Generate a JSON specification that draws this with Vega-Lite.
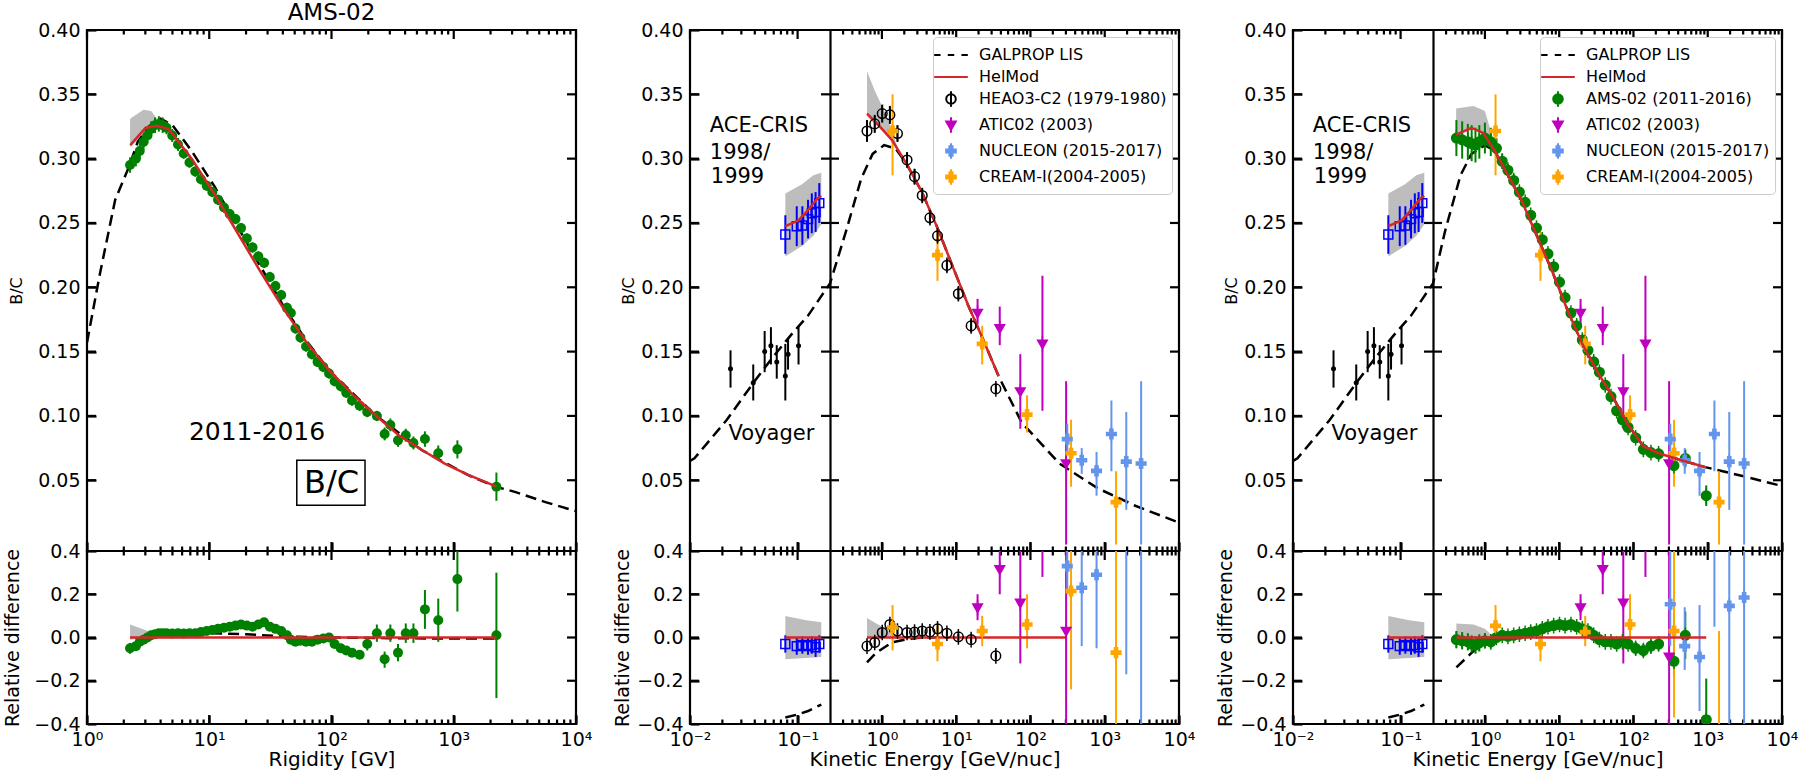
{
"$schema": "https://vega.github.io/schema/vega-lite/v6.json",
"padding": {"left": 2, "top": 0, "right": 0, "bottom": 0},
"config": {
  "font": "DejaVu Sans",
  "view": {"stroke": "black", "strokeWidth": 2.2},
  "axis": {"grid": false, "domain": false, "ticks": true, "tickColor": "black", "tickWidth": 2.2, "labelFontSize": 19, "labelColor": "black", "titleFontSize": 19, "titleFontWeight": "normal", "titleColor": "black", "labelFlush": false, "labelOverlap": false},
  "title": {"fontWeight": "normal", "color": "black"}
},
"datasets": {
  "xmaj_L": [{"t":1},{"t":10},{"t":100},{"t":1000},{"t":10000}],
  "xmin_L": [{"t":2},{"t":3},{"t":4},{"t":5},{"t":6},{"t":7},{"t":8},{"t":9},{"t":20},{"t":30},{"t":40},{"t":50},{"t":60},{"t":70},{"t":80},{"t":90},{"t":200},{"t":300},{"t":400},{"t":500},{"t":600},{"t":700},{"t":800},{"t":900},{"t":2000},{"t":3000},{"t":4000},{"t":5000},{"t":6000},{"t":7000},{"t":8000},{"t":9000}],
  "xmaj_M": [{"t":0.01},{"t":0.1},{"t":1},{"t":10},{"t":100},{"t":1000},{"t":10000}],
  "xmin_M": [{"t":0.02},{"t":0.03},{"t":0.04},{"t":0.05},{"t":0.06},{"t":0.07},{"t":0.08},{"t":0.09},{"t":0.3},{"t":0.4},{"t":0.5},{"t":0.6},{"t":0.7},{"t":0.8},{"t":0.9},{"t":2},{"t":3},{"t":4},{"t":5},{"t":6},{"t":7},{"t":8},{"t":9},{"t":20},{"t":30},{"t":40},{"t":50},{"t":60},{"t":70},{"t":80},{"t":90},{"t":200},{"t":300},{"t":400},{"t":500},{"t":600},{"t":700},{"t":800},{"t":900},{"t":2000},{"t":3000},{"t":4000},{"t":5000},{"t":6000},{"t":7000},{"t":8000},{"t":9000}],
  "yt_T": [{"t":0.05},{"t":0.1},{"t":0.15},{"t":0.2},{"t":0.25},{"t":0.3},{"t":0.35}],
  "yt_B": [{"t":-0.2},{"t":0},{"t":0.2}],

  "band_L": [{"E":2.25,"lo":0.309,"hi":0.331},{"E":2.9,"lo":0.318,"hi":0.338},{"E":3.35,"lo":0.323,"hi":0.337},{"E":3.8,"lo":0.326,"hi":0.33}],
  "lis_L": [{"E":1,"v":0.157},{"E":1.26,"v":0.208},{"E":1.7,"v":0.268},{"E":2.19,"v":0.293},{"E":2.6,"v":0.313},{"E":3.37,"v":0.327},{"E":4.0,"v":0.331},{"E":5.0,"v":0.326},{"E":7.18,"v":0.306},{"E":11.1,"v":0.278},{"E":17.1,"v":0.247},{"E":26.3,"v":0.216},{"E":40.7,"v":0.185},{"E":62.7,"v":0.158},{"E":96.6,"v":0.135},{"E":229,"v":0.1005},{"E":550,"v":0.0733},{"E":1288,"v":0.0543},{"E":2239,"v":0.0448},{"E":3162,"v":0.041},{"E":5623,"v":0.033},{"E":10000,"v":0.026}],
  "hel_L": [{"E":2.26,"v":0.3105},{"E":3.02,"v":0.324},{"E":3.75,"v":0.3255},{"E":4.66,"v":0.323},{"E":7.18,"v":0.3},{"E":11.1,"v":0.272},{"E":17.1,"v":0.242},{"E":26.3,"v":0.212},{"E":40.7,"v":0.183},{"E":62.7,"v":0.157},{"E":96.6,"v":0.135},{"E":148,"v":0.117},{"E":229,"v":0.1005},{"E":355,"v":0.085},{"E":550,"v":0.0735},{"E":851,"v":0.0628},{"E":1288,"v":0.0546},{"E":2239,"v":0.045}],
  "ams_L": [
    {"E":2.25,"v":0.295,"lo":0.289,"hi":0.301},{"E":2.51,"v":0.3,"lo":0.294,"hi":0.306},{"E":2.7,"v":0.306,"lo":0.3,"hi":0.312},{"E":2.9,"v":0.313,"lo":0.307,"hi":0.319},{"E":3.12,"v":0.318,"lo":0.312,"hi":0.324},{"E":3.35,"v":0.323,"lo":0.317,"hi":0.329},{"E":3.6,"v":0.326,"lo":0.32,"hi":0.332},{"E":3.87,"v":0.327,"lo":0.321,"hi":0.333},{"E":4.16,"v":0.326,"lo":0.32,"hi":0.332},{"E":4.47,"v":0.324,"lo":0.319,"hi":0.329},
    {"E":4.98,"v":0.318,"lo":0.313,"hi":0.323},{"E":5.55,"v":0.311,"lo":0.306,"hi":0.316},{"E":6.18,"v":0.304,"lo":0.3,"hi":0.308},{"E":6.89,"v":0.297,"lo":0.293,"hi":0.301},{"E":7.68,"v":0.29,"lo":0.286,"hi":0.294},{"E":8.55,"v":0.284,"lo":0.28,"hi":0.288},{"E":9.53,"v":0.279,"lo":0.275,"hi":0.283},{"E":10.6,"v":0.274,"lo":0.27,"hi":0.278},{"E":11.8,"v":0.268,"lo":0.264,"hi":0.272},{"E":13.2,"v":0.262,"lo":0.258,"hi":0.266},
    {"E":14.7,"v":0.257,"lo":0.253,"hi":0.261},{"E":16.4,"v":0.253,"lo":0.249,"hi":0.257},{"E":18.2,"v":0.246,"lo":0.242,"hi":0.25},{"E":20.3,"v":0.238,"lo":0.234,"hi":0.242},{"E":22.6,"v":0.231,"lo":0.227,"hi":0.235},{"E":25.2,"v":0.224,"lo":0.22,"hi":0.228},{"E":28.1,"v":0.219,"lo":0.215,"hi":0.223},{"E":31.3,"v":0.208,"lo":0.204,"hi":0.212},{"E":34.8,"v":0.201,"lo":0.197,"hi":0.205},{"E":38.8,"v":0.194,"lo":0.19,"hi":0.198},
    {"E":43.2,"v":0.184,"lo":0.18,"hi":0.188},{"E":46.5,"v":0.18,"lo":0.176,"hi":0.184},{"E":50.7,"v":0.168,"lo":0.164,"hi":0.172},{"E":55.7,"v":0.161,"lo":0.157,"hi":0.165},{"E":61.9,"v":0.154,"lo":0.15,"hi":0.158},{"E":69.1,"v":0.148,"lo":0.144,"hi":0.152},{"E":76.9,"v":0.142,"lo":0.138,"hi":0.146},{"E":85.7,"v":0.138,"lo":0.134,"hi":0.142},{"E":95.5,"v":0.133,"lo":0.129,"hi":0.137},{"E":106,"v":0.127,"lo":0.123,"hi":0.131},
    {"E":119,"v":0.123,"lo":0.119,"hi":0.127},{"E":132,"v":0.118,"lo":0.114,"hi":0.122},{"E":147,"v":0.112,"lo":0.108,"hi":0.116},{"E":170,"v":0.108,"lo":0.104,"hi":0.112},{"E":196,"v":0.103,"lo":0.099,"hi":0.107},{"E":235,"v":0.1,"lo":0.096,"hi":0.104},{"E":272,"v":0.086,"lo":0.081,"hi":0.091},{"E":303,"v":0.093,"lo":0.088,"hi":0.098},{"E":350,"v":0.081,"lo":0.076,"hi":0.086},{"E":405,"v":0.085,"lo":0.08,"hi":0.09},
    {"E":468,"v":0.079,"lo":0.074,"hi":0.084},{"E":581,"v":0.082,"lo":0.076,"hi":0.088},{"E":747,"v":0.071,"lo":0.065,"hi":0.077},{"E":1071,"v":0.074,"lo":0.067,"hi":0.081},{"E":2233,"v":0.045,"lo":0.034,"hi":0.056}],
  "amsrd_L": [
    {"E":2.25,"v":-0.05,"lo":-0.075,"hi":-0.025},{"E":2.51,"v":-0.04,"lo":-0.06,"hi":-0.02},{"E":2.7,"v":-0.02,"lo":-0.04,"hi":0.0},{"E":2.9,"v":-0.01,"lo":-0.028,"hi":0.008},{"E":3.12,"v":0.0,"lo":-0.015,"hi":0.015},{"E":3.35,"v":0.01,"lo":-0.003,"hi":0.023},{"E":3.6,"v":0.015,"lo":0.003,"hi":0.027},{"E":3.87,"v":0.02,"lo":0.008,"hi":0.032},{"E":4.16,"v":0.02,"lo":0.008,"hi":0.032},{"E":4.47,"v":0.02,"lo":0.008,"hi":0.032},
    {"E":4.98,"v":0.018,"lo":0.006,"hi":0.03},{"E":5.55,"v":0.02,"lo":0.008,"hi":0.032},{"E":6.18,"v":0.018,"lo":0.006,"hi":0.03},{"E":6.89,"v":0.02,"lo":0.008,"hi":0.032},{"E":7.68,"v":0.02,"lo":0.008,"hi":0.032},{"E":8.55,"v":0.025,"lo":0.013,"hi":0.037},{"E":9.53,"v":0.03,"lo":0.018,"hi":0.042},{"E":10.6,"v":0.035,"lo":0.023,"hi":0.047},{"E":11.8,"v":0.04,"lo":0.028,"hi":0.052},{"E":13.2,"v":0.045,"lo":0.033,"hi":0.057},
    {"E":14.7,"v":0.05,"lo":0.038,"hi":0.062},{"E":16.4,"v":0.055,"lo":0.043,"hi":0.067},{"E":18.2,"v":0.06,"lo":0.048,"hi":0.072},{"E":20.3,"v":0.055,"lo":0.043,"hi":0.067},{"E":22.6,"v":0.05,"lo":0.038,"hi":0.062},{"E":25.2,"v":0.06,"lo":0.048,"hi":0.072},{"E":28.1,"v":0.07,"lo":0.058,"hi":0.082},{"E":31.3,"v":0.05,"lo":0.038,"hi":0.062},{"E":34.8,"v":0.04,"lo":0.028,"hi":0.052},{"E":38.8,"v":0.03,"lo":0.018,"hi":0.042},
    {"E":43.2,"v":0.01,"lo":-0.002,"hi":0.022},{"E":46.5,"v":-0.01,"lo":-0.022,"hi":0.002},{"E":50.7,"v":-0.02,"lo":-0.032,"hi":-0.008},{"E":55.7,"v":-0.015,"lo":-0.027,"hi":-0.003},{"E":61.9,"v":-0.02,"lo":-0.032,"hi":-0.008},{"E":69.1,"v":-0.02,"lo":-0.032,"hi":-0.008},{"E":76.9,"v":-0.01,"lo":-0.022,"hi":0.002},{"E":85.7,"v":-0.005,"lo":-0.017,"hi":0.007},{"E":95.5,"v":0.0,"lo":-0.012,"hi":0.012},{"E":106,"v":-0.03,"lo":-0.045,"hi":-0.015},
    {"E":119,"v":-0.05,"lo":-0.065,"hi":-0.035},{"E":132,"v":-0.06,"lo":-0.075,"hi":-0.045},{"E":147,"v":-0.07,"lo":-0.085,"hi":-0.055},{"E":170,"v":-0.08,"lo":-0.1,"hi":-0.06},{"E":196,"v":-0.03,"lo":-0.06,"hi":0.0},{"E":235,"v":0.02,"lo":-0.02,"hi":0.06},{"E":272,"v":-0.1,"lo":-0.14,"hi":-0.065},{"E":303,"v":0.02,"lo":-0.02,"hi":0.06},{"E":350,"v":-0.07,"lo":-0.11,"hi":-0.03},{"E":405,"v":0.02,"lo":-0.025,"hi":0.065},
    {"E":468,"v":0.02,"lo":-0.025,"hi":0.065},{"E":581,"v":0.13,"lo":0.04,"hi":0.22},{"E":747,"v":0.08,"lo":-0.02,"hi":0.18},{"E":1071,"v":0.27,"lo":0.12,"hi":0.45},{"E":2233,"v":0.01,"lo":-0.28,"hi":0.3}],
  "lisrd_L": [{"E":2.25,"v":-0.055},{"E":2.9,"v":-0.015},{"E":3.6,"v":0.01},{"E":4.5,"v":0.02},{"E":7,"v":0.02},{"E":10,"v":0.02},{"E":20,"v":0.015},{"E":40,"v":0.005},{"E":100,"v":0.0},{"E":300,"v":-0.003},{"E":1000,"v":-0.005},{"E":2233,"v":-0.005}],
  "helrd_L": [{"E":2.25,"v":0},{"E":2233,"v":0}],
  "bandrd_L": [{"E":2.25,"lo":-0.01,"hi":0.06},{"E":3.0,"lo":0.0,"hi":0.035},{"E":4.0,"lo":0.0,"hi":0.005}],

  "voy": [{"E":0.0238,"v":0.1367,"lo":0.122,"hi":0.151},{"E":0.0387,"v":0.1258,"lo":0.112,"hi":0.14},{"E":0.0494,"v":0.15,"lo":0.134,"hi":0.166},{"E":0.0565,"v":0.1545,"lo":0.14,"hi":0.169},{"E":0.064,"v":0.142,"lo":0.129,"hi":0.155},{"E":0.0769,"v":0.131,"lo":0.112,"hi":0.156},{"E":0.0815,"v":0.148,"lo":0.136,"hi":0.16},{"E":0.102,"v":0.1545,"lo":0.14,"hi":0.169}],
  "ace": [{"E":0.0769,"v":0.241,"lo":0.226,"hi":0.256},{"E":0.0982,"v":0.2475,"lo":0.232,"hi":0.263},{"E":0.1107,"v":0.248,"lo":0.233,"hi":0.263},{"E":0.125,"v":0.253,"lo":0.238,"hi":0.268},{"E":0.1355,"v":0.2575,"lo":0.242,"hi":0.273},{"E":0.147,"v":0.2585,"lo":0.243,"hi":0.274},{"E":0.159,"v":0.2654,"lo":0.25,"hi":0.281}],
  "acerd": [{"E":0.0769,"v":-0.03,"lo":-0.07,"hi":0.01},{"E":0.0982,"v":-0.04,"lo":-0.08,"hi":0.0},{"E":0.1107,"v":-0.035,"lo":-0.075,"hi":0.005},{"E":0.125,"v":-0.04,"lo":-0.08,"hi":0.0},{"E":0.1355,"v":-0.035,"lo":-0.075,"hi":0.005},{"E":0.147,"v":-0.045,"lo":-0.09,"hi":0.0},{"E":0.159,"v":-0.03,"lo":-0.07,"hi":0.01}],

  "band_M": [{"E":0.0769,"lo":0.224,"hi":0.273,"seg":"A"},{"E":0.11,"lo":0.232,"hi":0.28,"seg":"A"},{"E":0.14,"lo":0.24,"hi":0.287,"seg":"A"},{"E":0.166,"lo":0.249,"hi":0.289,"seg":"A"},{"E":0.63,"lo":0.333,"hi":0.368,"seg":"B"},{"E":0.8,"lo":0.327,"hi":0.353,"seg":"B"},{"E":1.2,"lo":0.318,"hi":0.331,"seg":"B"},{"E":1.62,"lo":0.307,"hi":0.309,"seg":"B"}],
  "lis_M": [{"E":0.01,"v":0.065},{"E":0.011,"v":0.067},{"E":0.022,"v":0.097},{"E":0.039,"v":0.126},{"E":0.058,"v":0.145},{"E":0.087,"v":0.163},{"E":0.125,"v":0.178},{"E":0.2,"v":0.203},{"E":0.328,"v":0.2434},{"E":0.526,"v":0.2845},{"E":0.75,"v":0.3037},{"E":1.07,"v":0.3105},{"E":1.53,"v":0.3078},{"E":2.17,"v":0.2955},{"E":3.49,"v":0.2735},{"E":5.61,"v":0.246},{"E":9.0,"v":0.216},{"E":14.5,"v":0.186},{"E":23.2,"v":0.159},{"E":37.2,"v":0.131},{"E":75.9,"v":0.095},{"E":245,"v":0.063},{"E":813,"v":0.0436},{"E":2630,"v":0.03},{"E":10000,"v":0.017}],
  "hel_M": [{"E":0.0769,"v":0.2475,"seg":"A"},{"E":0.102,"v":0.252,"seg":"A"},{"E":0.125,"v":0.26,"seg":"A"},{"E":0.153,"v":0.269,"seg":"A"},{"E":0.166,"v":0.271,"seg":"A"},{"E":0.63,"v":0.335,"seg":"B"},{"E":0.84,"v":0.328,"seg":"B"},{"E":1.36,"v":0.3146,"seg":"B"},{"E":2.17,"v":0.2955,"seg":"B"},{"E":3.49,"v":0.2735,"seg":"B"},{"E":5.61,"v":0.246,"seg":"B"},{"E":9.0,"v":0.216,"seg":"B"},{"E":14.5,"v":0.186,"seg":"B"},{"E":23.2,"v":0.159,"seg":"B"},{"E":37.2,"v":0.131,"seg":"B"}],
  "exp_M": [
    {"s":"HEAO3-C2 (1979-1980)","E":0.63,"v":0.3215,"lo":0.313,"hi":0.33},{"s":"HEAO3-C2 (1979-1980)","E":0.8,"v":0.327,"lo":0.32,"hi":0.334},{"s":"HEAO3-C2 (1979-1980)","E":1.01,"v":0.335,"lo":0.328,"hi":0.342},{"s":"HEAO3-C2 (1979-1980)","E":1.28,"v":0.334,"lo":0.327,"hi":0.341},{"s":"HEAO3-C2 (1979-1980)","E":1.62,"v":0.3195,"lo":0.313,"hi":0.326},{"s":"HEAO3-C2 (1979-1980)","E":2.18,"v":0.299,"lo":0.293,"hi":0.305},{"s":"HEAO3-C2 (1979-1980)","E":2.75,"v":0.286,"lo":0.28,"hi":0.292},{"s":"HEAO3-C2 (1979-1980)","E":3.49,"v":0.2714,"lo":0.266,"hi":0.277},{"s":"HEAO3-C2 (1979-1980)","E":4.43,"v":0.254,"lo":0.249,"hi":0.259},{"s":"HEAO3-C2 (1979-1980)","E":5.61,"v":0.24,"lo":0.235,"hi":0.245},{"s":"HEAO3-C2 (1979-1980)","E":7.5,"v":0.217,"lo":0.212,"hi":0.222},{"s":"HEAO3-C2 (1979-1980)","E":10.7,"v":0.195,"lo":0.19,"hi":0.2},{"s":"HEAO3-C2 (1979-1980)","E":15.9,"v":0.17,"lo":0.165,"hi":0.175},{"s":"HEAO3-C2 (1979-1980)","E":34.2,"v":0.121,"lo":0.117,"hi":0.125},
    {"s":"ATIC02 (2003)","E":19.4,"v":0.18,"lo":0.171,"hi":0.191},{"s":"ATIC02 (2003)","E":38.6,"v":0.168,"lo":0.155,"hi":0.185},{"s":"ATIC02 (2003)","E":73,"v":0.119,"lo":0.09,"hi":0.148},{"s":"ATIC02 (2003)","E":145,"v":0.156,"lo":0.104,"hi":0.209},{"s":"ATIC02 (2003)","E":302,"v":0.063,"lo":0.0,"hi":0.127},
    {"s":"NUCLEON (2015-2017)","E":313,"v":0.082,"lo":0.07,"hi":0.094},{"s":"NUCLEON (2015-2017)","E":490,"v":0.0655,"lo":0.055,"hi":0.075},{"s":"NUCLEON (2015-2017)","E":776,"v":0.0573,"lo":0.038,"hi":0.072},{"s":"NUCLEON (2015-2017)","E":1230,"v":0.086,"lo":0.057,"hi":0.112},{"s":"NUCLEON (2015-2017)","E":1950,"v":0.0645,"lo":0.027,"hi":0.103},{"s":"NUCLEON (2015-2017)","E":3090,"v":0.063,"lo":0.0,"hi":0.127},
    {"s":"CREAM-I(2004-2005)","E":1.39,"v":0.3215,"lo":0.287,"hi":0.35},{"s":"CREAM-I(2004-2005)","E":5.6,"v":0.225,"lo":0.205,"hi":0.243},{"s":"CREAM-I(2004-2005)","E":22.4,"v":0.156,"lo":0.14,"hi":0.17},{"s":"CREAM-I(2004-2005)","E":90,"v":0.101,"lo":0.087,"hi":0.116},{"s":"CREAM-I(2004-2005)","E":352,"v":0.071,"lo":0.045,"hi":0.097},{"s":"CREAM-I(2004-2005)","E":1420,"v":0.033,"lo":0.0,"hi":0.057}],
  "bandrd_M": [{"E":0.0769,"lo":-0.1,"hi":0.1,"seg":"A"},{"E":0.12,"lo":-0.095,"hi":0.08,"seg":"A"},{"E":0.166,"lo":-0.09,"hi":0.07,"seg":"A"},{"E":0.63,"lo":0.0,"hi":0.09,"seg":"B"},{"E":0.84,"lo":0.0,"hi":0.065,"seg":"B"},{"E":1.36,"lo":0.0,"hi":0.023,"seg":"B"},{"E":1.62,"lo":0.0,"hi":0.005,"seg":"B"}],
  "lisrd_M": [{"E":0.0769,"v":-0.37,"seg":"A"},{"E":0.102,"v":-0.355,"seg":"A"},{"E":0.125,"v":-0.34,"seg":"A"},{"E":0.166,"v":-0.31,"seg":"A"},{"E":0.63,"v":-0.115,"seg":"B"},{"E":0.84,"v":-0.07,"seg":"B"},{"E":1.36,"v":-0.023,"seg":"B"},{"E":2.18,"v":-0.008,"seg":"B"},{"E":3.5,"v":0.0,"seg":"B"},{"E":5.6,"v":0.0,"seg":"B"}],
  "helrd_M": [{"E":0.0769,"v":0,"seg":"A"},{"E":0.166,"v":0,"seg":"A"},{"E":0.63,"v":0,"seg":"B"},{"E":302,"v":0,"seg":"B"}],
  "exprd_M": [
    {"s":"HEAO3-C2 (1979-1980)","E":0.63,"v":-0.04,"lo":-0.055,"hi":-0.025},{"s":"HEAO3-C2 (1979-1980)","E":0.8,"v":-0.023,"lo":-0.038,"hi":-0.008},{"s":"HEAO3-C2 (1979-1980)","E":1.01,"v":0.023,"lo":0.008,"hi":0.038},{"s":"HEAO3-C2 (1979-1980)","E":1.28,"v":0.06,"lo":0.045,"hi":0.075},{"s":"HEAO3-C2 (1979-1980)","E":1.62,"v":0.03,"lo":0.015,"hi":0.045},{"s":"HEAO3-C2 (1979-1980)","E":2.18,"v":0.023,"lo":0.008,"hi":0.038},{"s":"HEAO3-C2 (1979-1980)","E":2.75,"v":0.025,"lo":0.01,"hi":0.04},{"s":"HEAO3-C2 (1979-1980)","E":3.49,"v":0.03,"lo":0.015,"hi":0.045},{"s":"HEAO3-C2 (1979-1980)","E":4.43,"v":0.026,"lo":0.011,"hi":0.041},{"s":"HEAO3-C2 (1979-1980)","E":5.61,"v":0.04,"lo":0.025,"hi":0.055},{"s":"HEAO3-C2 (1979-1980)","E":7.5,"v":0.02,"lo":0.005,"hi":0.035},{"s":"HEAO3-C2 (1979-1980)","E":10.7,"v":0.003,"lo":-0.012,"hi":0.018},{"s":"HEAO3-C2 (1979-1980)","E":15.9,"v":-0.01,"lo":-0.025,"hi":0.005},{"s":"HEAO3-C2 (1979-1980)","E":34.2,"v":-0.085,"lo":-0.1,"hi":-0.07},
    {"s":"ATIC02 (2003)","E":19.4,"v":0.138,"lo":0.08,"hi":0.2},{"s":"ATIC02 (2003)","E":38.6,"v":0.315,"lo":0.2,"hi":0.45},{"s":"ATIC02 (2003)","E":73,"v":0.16,"lo":-0.12,"hi":0.45},{"s":"ATIC02 (2003)","E":145,"v":0.6,"lo":0.28,"hi":0.95},{"s":"ATIC02 (2003)","E":302,"v":0.03,"lo":-0.5,"hi":0.6},
    {"s":"NUCLEON (2015-2017)","E":313,"v":0.33,"lo":0.2,"hi":0.46},{"s":"NUCLEON (2015-2017)","E":490,"v":0.23,"lo":-0.04,"hi":0.5},{"s":"NUCLEON (2015-2017)","E":776,"v":0.29,"lo":-0.05,"hi":0.6},{"s":"NUCLEON (2015-2017)","E":1230,"v":0.6,"lo":0.45,"hi":0.9},{"s":"NUCLEON (2015-2017)","E":1950,"v":0.7,"lo":-0.17,"hi":1.5},{"s":"NUCLEON (2015-2017)","E":3090,"v":1.0,"lo":-1.0,"hi":2.0},
    {"s":"CREAM-I(2004-2005)","E":1.39,"v":0.046,"lo":-0.06,"hi":0.15},{"s":"CREAM-I(2004-2005)","E":5.6,"v":-0.03,"lo":-0.11,"hi":0.06},{"s":"CREAM-I(2004-2005)","E":22.4,"v":0.03,"lo":-0.04,"hi":0.1},{"s":"CREAM-I(2004-2005)","E":90,"v":0.06,"lo":-0.05,"hi":0.2},{"s":"CREAM-I(2004-2005)","E":352,"v":0.215,"lo":-0.24,"hi":0.6},{"s":"CREAM-I(2004-2005)","E":1420,"v":-0.07,"lo":-0.8,"hi":0.6}],

  "band_R": [{"E":0.0769,"lo":0.224,"hi":0.273,"seg":"A"},{"E":0.11,"lo":0.232,"hi":0.28,"seg":"A"},{"E":0.14,"lo":0.24,"hi":0.287,"seg":"A"},{"E":0.166,"lo":0.249,"hi":0.289,"seg":"A"},{"E":0.41,"lo":0.318,"hi":0.339,"seg":"B"},{"E":0.7,"lo":0.323,"hi":0.341,"seg":"B"},{"E":1.0,"lo":0.318,"hi":0.337,"seg":"B"},{"E":1.25,"lo":0.31,"hi":0.318,"seg":"B"}],
  "lis_R": [{"E":0.01,"v":0.065},{"E":0.011,"v":0.067},{"E":0.022,"v":0.097},{"E":0.039,"v":0.126},{"E":0.058,"v":0.145},{"E":0.087,"v":0.163},{"E":0.125,"v":0.178},{"E":0.2,"v":0.203},{"E":0.29,"v":0.2434},{"E":0.47,"v":0.2872},{"E":0.66,"v":0.3037},{"E":1.0,"v":0.3105},{"E":1.35,"v":0.306},{"E":1.92,"v":0.29},{"E":3.09,"v":0.268},{"E":4.95,"v":0.2407},{"E":7.94,"v":0.2133},{"E":12.8,"v":0.183},{"E":20.5,"v":0.156},{"E":32.9,"v":0.134},{"E":52.7,"v":0.1148},{"E":84.7,"v":0.093},{"E":136,"v":0.0765},{"E":218,"v":0.071},{"E":444,"v":0.0655},{"E":956,"v":0.06},{"E":2943,"v":0.0533},{"E":10000,"v":0.0455}],
  "hel_R": [{"E":0.0769,"v":0.2475,"seg":"A"},{"E":0.102,"v":0.252,"seg":"A"},{"E":0.125,"v":0.26,"seg":"A"},{"E":0.153,"v":0.269,"seg":"A"},{"E":0.166,"v":0.271,"seg":"A"},{"E":0.41,"v":0.3187,"seg":"B"},{"E":0.66,"v":0.324,"seg":"B"},{"E":0.95,"v":0.32,"seg":"B"},{"E":1.35,"v":0.3064,"seg":"B"},{"E":1.92,"v":0.29,"seg":"B"},{"E":3.09,"v":0.268,"seg":"B"},{"E":4.95,"v":0.2407,"seg":"B"},{"E":7.94,"v":0.2133,"seg":"B"},{"E":12.8,"v":0.183,"seg":"B"},{"E":20.5,"v":0.156,"seg":"B"},{"E":32.9,"v":0.134,"seg":"B"},{"E":52.7,"v":0.1148,"seg":"B"},{"E":84.7,"v":0.093,"seg":"B"},{"E":136,"v":0.0765,"seg":"B"},{"E":218,"v":0.071,"seg":"B"},{"E":444,"v":0.0655,"seg":"B"},{"E":956,"v":0.06,"seg":"B"}],
  "exp_R": [
    {"s":"AMS-02 (2011-2016)","E":0.413,"v":0.316,"lo":0.302,"hi":0.33},{"s":"AMS-02 (2011-2016)","E":0.494,"v":0.3146,"lo":0.3,"hi":0.329},{"s":"AMS-02 (2011-2016)","E":0.589,"v":0.313,"lo":0.299,"hi":0.327},{"s":"AMS-02 (2011-2016)","E":0.663,"v":0.3118,"lo":0.298,"hi":0.326},{"s":"AMS-02 (2011-2016)","E":0.746,"v":0.3105,"lo":0.297,"hi":0.324},{"s":"AMS-02 (2011-2016)","E":0.841,"v":0.313,"lo":0.3,"hi":0.326},{"s":"AMS-02 (2011-2016)","E":1.0,"v":0.316,"lo":0.304,"hi":0.328},{"s":"AMS-02 (2011-2016)","E":1.2,"v":0.313,"lo":0.302,"hi":0.324},
    {"s":"AMS-02 (2011-2016)","E":1.43,"v":0.308,"lo":0.3,"hi":0.316},{"s":"AMS-02 (2011-2016)","E":1.71,"v":0.298,"lo":0.292,"hi":0.304},{"s":"AMS-02 (2011-2016)","E":2.04,"v":0.291,"lo":0.286,"hi":0.296},{"s":"AMS-02 (2011-2016)","E":2.44,"v":0.283,"lo":0.278,"hi":0.288},{"s":"AMS-02 (2011-2016)","E":2.91,"v":0.274,"lo":0.27,"hi":0.278},{"s":"AMS-02 (2011-2016)","E":3.48,"v":0.266,"lo":0.262,"hi":0.27},{"s":"AMS-02 (2011-2016)","E":4.14,"v":0.256,"lo":0.252,"hi":0.26},{"s":"AMS-02 (2011-2016)","E":4.95,"v":0.246,"lo":0.242,"hi":0.25},
    {"s":"AMS-02 (2011-2016)","E":5.92,"v":0.237,"lo":0.233,"hi":0.241},{"s":"AMS-02 (2011-2016)","E":7.06,"v":0.226,"lo":0.222,"hi":0.23},{"s":"AMS-02 (2011-2016)","E":8.43,"v":0.216,"lo":0.212,"hi":0.22},{"s":"AMS-02 (2011-2016)","E":10.1,"v":0.204,"lo":0.2,"hi":0.208},{"s":"AMS-02 (2011-2016)","E":12.0,"v":0.192,"lo":0.188,"hi":0.196},{"s":"AMS-02 (2011-2016)","E":14.4,"v":0.18,"lo":0.176,"hi":0.184},{"s":"AMS-02 (2011-2016)","E":17.2,"v":0.17,"lo":0.166,"hi":0.174},{"s":"AMS-02 (2011-2016)","E":20.5,"v":0.159,"lo":0.155,"hi":0.163},
    {"s":"AMS-02 (2011-2016)","E":24.4,"v":0.151,"lo":0.147,"hi":0.155},{"s":"AMS-02 (2011-2016)","E":29.2,"v":0.142,"lo":0.138,"hi":0.146},{"s":"AMS-02 (2011-2016)","E":34.8,"v":0.134,"lo":0.13,"hi":0.138},{"s":"AMS-02 (2011-2016)","E":41.7,"v":0.124,"lo":0.12,"hi":0.128},{"s":"AMS-02 (2011-2016)","E":49.8,"v":0.115,"lo":0.111,"hi":0.119},{"s":"AMS-02 (2011-2016)","E":59.4,"v":0.104,"lo":0.1,"hi":0.108},{"s":"AMS-02 (2011-2016)","E":71,"v":0.097,"lo":0.093,"hi":0.101},{"s":"AMS-02 (2011-2016)","E":84.7,"v":0.091,"lo":0.087,"hi":0.095},
    {"s":"AMS-02 (2011-2016)","E":107,"v":0.083,"lo":0.079,"hi":0.087},{"s":"AMS-02 (2011-2016)","E":136,"v":0.074,"lo":0.07,"hi":0.078},{"s":"AMS-02 (2011-2016)","E":172,"v":0.0715,"lo":0.067,"hi":0.076},{"s":"AMS-02 (2011-2016)","E":218,"v":0.0705,"lo":0.066,"hi":0.075},{"s":"AMS-02 (2011-2016)","E":351,"v":0.0614,"lo":0.056,"hi":0.067},{"s":"AMS-02 (2011-2016)","E":499,"v":0.0669,"lo":0.06,"hi":0.074},{"s":"AMS-02 (2011-2016)","E":955,"v":0.038,"lo":0.03,"hi":0.046},
    {"s":"ATIC02 (2003)","E":19.4,"v":0.18,"lo":0.171,"hi":0.191},{"s":"ATIC02 (2003)","E":38.6,"v":0.168,"lo":0.155,"hi":0.185},{"s":"ATIC02 (2003)","E":73,"v":0.119,"lo":0.09,"hi":0.148},{"s":"ATIC02 (2003)","E":145,"v":0.156,"lo":0.104,"hi":0.209},{"s":"ATIC02 (2003)","E":302,"v":0.063,"lo":0.0,"hi":0.127},
    {"s":"NUCLEON (2015-2017)","E":313,"v":0.082,"lo":0.07,"hi":0.094},{"s":"NUCLEON (2015-2017)","E":490,"v":0.0655,"lo":0.055,"hi":0.075},{"s":"NUCLEON (2015-2017)","E":776,"v":0.0573,"lo":0.038,"hi":0.072},{"s":"NUCLEON (2015-2017)","E":1230,"v":0.086,"lo":0.057,"hi":0.112},{"s":"NUCLEON (2015-2017)","E":1950,"v":0.0645,"lo":0.027,"hi":0.103},{"s":"NUCLEON (2015-2017)","E":3090,"v":0.063,"lo":0.0,"hi":0.127},
    {"s":"CREAM-I(2004-2005)","E":1.39,"v":0.3215,"lo":0.287,"hi":0.35},{"s":"CREAM-I(2004-2005)","E":5.6,"v":0.225,"lo":0.205,"hi":0.243},{"s":"CREAM-I(2004-2005)","E":22.4,"v":0.156,"lo":0.14,"hi":0.17},{"s":"CREAM-I(2004-2005)","E":90,"v":0.101,"lo":0.087,"hi":0.116},{"s":"CREAM-I(2004-2005)","E":352,"v":0.071,"lo":0.045,"hi":0.097},{"s":"CREAM-I(2004-2005)","E":1420,"v":0.033,"lo":0.0,"hi":0.057}],
  "bandrd_R": [{"E":0.0769,"lo":-0.1,"hi":0.1,"seg":"A"},{"E":0.12,"lo":-0.095,"hi":0.08,"seg":"A"},{"E":0.166,"lo":-0.09,"hi":0.07,"seg":"A"},{"E":0.413,"lo":0.0,"hi":0.065,"seg":"B"},{"E":0.7,"lo":0.0,"hi":0.06,"seg":"B"},{"E":1.0,"lo":0.0,"hi":0.04,"seg":"B"},{"E":1.3,"lo":0.0,"hi":0.005,"seg":"B"}],
  "lisrd_R": [{"E":0.0769,"v":-0.37,"seg":"A"},{"E":0.102,"v":-0.355,"seg":"A"},{"E":0.125,"v":-0.34,"seg":"A"},{"E":0.166,"v":-0.31,"seg":"A"},{"E":0.413,"v":-0.138,"seg":"B"},{"E":0.746,"v":-0.054,"seg":"B"},{"E":1.2,"v":-0.008,"seg":"B"},{"E":1.6,"v":0.0,"seg":"B"},{"E":2.5,"v":0.0,"seg":"B"}],
  "helrd_R": [{"E":0.0769,"v":0,"seg":"A"},{"E":0.166,"v":0,"seg":"A"},{"E":0.413,"v":0,"seg":"B"},{"E":955,"v":0,"seg":"B"}],
  "exprd_R": [
    {"s":"AMS-02 (2011-2016)","E":0.413,"v":-0.01,"lo":-0.05,"hi":0.03},{"s":"AMS-02 (2011-2016)","E":0.494,"v":-0.015,"lo":-0.055,"hi":0.025},{"s":"AMS-02 (2011-2016)","E":0.589,"v":-0.02,"lo":-0.06,"hi":0.02},{"s":"AMS-02 (2011-2016)","E":0.663,"v":-0.03,"lo":-0.07,"hi":0.01},{"s":"AMS-02 (2011-2016)","E":0.746,"v":-0.035,"lo":-0.075,"hi":0.005},{"s":"AMS-02 (2011-2016)","E":0.841,"v":-0.025,"lo":-0.065,"hi":0.015},{"s":"AMS-02 (2011-2016)","E":1.0,"v":-0.015,"lo":-0.05,"hi":0.02},{"s":"AMS-02 (2011-2016)","E":1.2,"v":-0.02,"lo":-0.05,"hi":0.01},
    {"s":"AMS-02 (2011-2016)","E":1.43,"v":0.0,"lo":-0.02,"hi":0.02},{"s":"AMS-02 (2011-2016)","E":1.71,"v":0.01,"lo":-0.008,"hi":0.028},{"s":"AMS-02 (2011-2016)","E":2.04,"v":0.005,"lo":-0.012,"hi":0.022},{"s":"AMS-02 (2011-2016)","E":2.44,"v":0.01,"lo":-0.005,"hi":0.025},{"s":"AMS-02 (2011-2016)","E":2.91,"v":0.015,"lo":0.0,"hi":0.03},{"s":"AMS-02 (2011-2016)","E":3.48,"v":0.02,"lo":0.005,"hi":0.035},{"s":"AMS-02 (2011-2016)","E":4.14,"v":0.025,"lo":0.01,"hi":0.04},{"s":"AMS-02 (2011-2016)","E":4.95,"v":0.03,"lo":0.015,"hi":0.045},
    {"s":"AMS-02 (2011-2016)","E":5.92,"v":0.04,"lo":0.025,"hi":0.055},{"s":"AMS-02 (2011-2016)","E":7.06,"v":0.05,"lo":0.035,"hi":0.065},{"s":"AMS-02 (2011-2016)","E":8.43,"v":0.055,"lo":0.04,"hi":0.07},{"s":"AMS-02 (2011-2016)","E":10.1,"v":0.06,"lo":0.045,"hi":0.075},{"s":"AMS-02 (2011-2016)","E":12.0,"v":0.055,"lo":0.04,"hi":0.07},{"s":"AMS-02 (2011-2016)","E":14.4,"v":0.06,"lo":0.045,"hi":0.075},{"s":"AMS-02 (2011-2016)","E":17.2,"v":0.05,"lo":0.035,"hi":0.065},{"s":"AMS-02 (2011-2016)","E":20.5,"v":0.04,"lo":0.025,"hi":0.055},
    {"s":"AMS-02 (2011-2016)","E":24.4,"v":0.03,"lo":0.015,"hi":0.045},{"s":"AMS-02 (2011-2016)","E":29.2,"v":0.01,"lo":-0.005,"hi":0.025},{"s":"AMS-02 (2011-2016)","E":34.8,"v":-0.01,"lo":-0.025,"hi":0.005},{"s":"AMS-02 (2011-2016)","E":41.7,"v":-0.02,"lo":-0.035,"hi":-0.005},{"s":"AMS-02 (2011-2016)","E":49.8,"v":-0.02,"lo":-0.035,"hi":-0.005},{"s":"AMS-02 (2011-2016)","E":59.4,"v":-0.03,"lo":-0.045,"hi":-0.015},{"s":"AMS-02 (2011-2016)","E":71,"v":-0.02,"lo":-0.04,"hi":0.0},{"s":"AMS-02 (2011-2016)","E":84.7,"v":-0.03,"lo":-0.05,"hi":-0.01},
    {"s":"AMS-02 (2011-2016)","E":107,"v":-0.05,"lo":-0.08,"hi":-0.02},{"s":"AMS-02 (2011-2016)","E":136,"v":-0.06,"lo":-0.09,"hi":-0.03},{"s":"AMS-02 (2011-2016)","E":172,"v":-0.04,"lo":-0.07,"hi":-0.01},{"s":"AMS-02 (2011-2016)","E":218,"v":-0.03,"lo":-0.06,"hi":0.0},{"s":"AMS-02 (2011-2016)","E":351,"v":-0.11,"lo":-0.18,"hi":0.12},{"s":"AMS-02 (2011-2016)","E":499,"v":0.01,"lo":-0.1,"hi":0.12},{"s":"AMS-02 (2011-2016)","E":955,"v":-0.38,"lo":-0.57,"hi":-0.19},
    {"s":"ATIC02 (2003)","E":19.4,"v":0.138,"lo":0.08,"hi":0.2},{"s":"ATIC02 (2003)","E":38.6,"v":0.315,"lo":0.2,"hi":0.45},{"s":"ATIC02 (2003)","E":73,"v":0.16,"lo":-0.12,"hi":0.45},{"s":"ATIC02 (2003)","E":145,"v":0.6,"lo":0.28,"hi":0.95},{"s":"ATIC02 (2003)","E":302,"v":-0.09,"lo":-0.6,"hi":0.5},
    {"s":"NUCLEON (2015-2017)","E":313,"v":0.154,"lo":-0.04,"hi":0.45},{"s":"NUCLEON (2015-2017)","E":490,"v":-0.04,"lo":-0.15,"hi":0.14},{"s":"NUCLEON (2015-2017)","E":776,"v":-0.09,"lo":-0.34,"hi":0.15},{"s":"NUCLEON (2015-2017)","E":1230,"v":0.45,"lo":0.05,"hi":0.85},{"s":"NUCLEON (2015-2017)","E":1950,"v":0.146,"lo":-0.45,"hi":0.5},{"s":"NUCLEON (2015-2017)","E":3090,"v":0.185,"lo":-0.6,"hi":0.95},
    {"s":"CREAM-I(2004-2005)","E":1.39,"v":0.054,"lo":-0.03,"hi":0.15},{"s":"CREAM-I(2004-2005)","E":5.6,"v":-0.03,"lo":-0.11,"hi":0.06},{"s":"CREAM-I(2004-2005)","E":22.4,"v":0.025,"lo":-0.04,"hi":0.1},{"s":"CREAM-I(2004-2005)","E":90,"v":0.06,"lo":-0.05,"hi":0.2},{"s":"CREAM-I(2004-2005)","E":352,"v":0.03,"lo":-0.37,"hi":0.45},{"s":"CREAM-I(2004-2005)","E":1420,"v":-0.45,"lo":-0.9,"hi":0.03}]
},
"concat": [
  {"width": 489, "height": 521,
   "title": {"text": "AMS-02", "fontSize": 23, "offset": -4},
   "resolve": {"axis": {"x": "independent", "y": "independent"}},
   "layer": [
    {"data": {"name": "band_L"}, "mark": {"type": "area", "color": "#bdbdbd", "clip": true},
     "encoding": {
      "x": {"field": "E", "type": "quantitative", "scale": {"type": "log", "domain": [1, 10000], "nice": false},
            "axis": {"orient": "bottom", "values": [1,10,100,1000,10000], "tickSize": -9, "labels": false, "title": null}},
      "y": {"field": "lo", "type": "quantitative", "scale": {"domain": [-0.005, 0.4], "nice": false, "zero": false},
            "axis": {"orient": "left", "values": [0.05,0.1,0.15,0.2,0.25,0.3,0.35,0.4], "format": ".2f", "tickSize": -9, "labelPadding": 16, "title": "B/C", "titleFontSize": 16, "titlePadding": 13}},
      "y2": {"field": "hi"}}},
    {"data": {"name": "xmaj_L"}, "mark": {"type": "rule", "color": "black", "strokeWidth": 2.2}, "encoding": {"x": {"field": "t", "type": "quantitative", "axis": null}, "y": {"datum": -0.005, "type": "quantitative", "axis": null}, "y2": {"datum": 0.002}}},
    {"data": {"name": "xmaj_L"}, "mark": {"type": "rule", "color": "black", "strokeWidth": 2.2}, "encoding": {"x": {"field": "t", "type": "quantitative", "axis": null}, "y": {"datum": 0.4, "type": "quantitative", "axis": null}, "y2": {"datum": 0.393}}},
    {"data": {"name": "xmin_L"}, "mark": {"type": "rule", "color": "black", "strokeWidth": 2.2}, "encoding": {"x": {"field": "t", "type": "quantitative", "axis": null}, "y": {"datum": -0.005, "type": "quantitative", "axis": null}, "y2": {"datum": -0.0015}}},
    {"data": {"name": "xmin_L"}, "mark": {"type": "rule", "color": "black", "strokeWidth": 2.2}, "encoding": {"x": {"field": "t", "type": "quantitative", "axis": null}, "y": {"datum": 0.4, "type": "quantitative", "axis": null}, "y2": {"datum": 0.3965}}},
    {"data": {"name": "yt_T"}, "mark": {"type": "rule", "color": "black", "strokeWidth": 2.2}, "encoding": {"y": {"field": "t", "type": "quantitative", "axis": null}, "x": {"datum": 1, "type": "quantitative", "axis": null}, "x2": {"datum": 1.185}}},
    {"data": {"name": "yt_T"}, "mark": {"type": "rule", "color": "black", "strokeWidth": 2.2}, "encoding": {"y": {"field": "t", "type": "quantitative", "axis": null}, "x": {"datum": 10000, "type": "quantitative", "axis": null}, "x2": {"datum": 8440}}},
    {"data": {"name": "lis_L"}, "mark": {"type": "line", "color": "black", "strokeDash": [11, 6], "strokeWidth": 2.5, "clip": true},
     "encoding": {"x": {"field": "E", "type": "quantitative", "axis": null}, "y": {"field": "v", "type": "quantitative", "axis": null}}},
    {"data": {"name": "ams_L"}, "mark": {"type": "rule", "color": "#008000", "strokeWidth": 2, "clip": true},
     "encoding": {"x": {"field": "E", "type": "quantitative", "axis": null}, "y": {"field": "lo", "type": "quantitative", "axis": null}, "y2": {"field": "hi"}}},
    {"data": {"name": "ams_L"}, "mark": {"type": "point", "shape": "circle", "filled": true, "color": "#008000", "size": 100, "opacity": 1, "clip": true},
     "encoding": {"x": {"field": "E", "type": "quantitative", "axis": null}, "y": {"field": "v", "type": "quantitative", "axis": null}}},
    {"data": {"name": "hel_L"}, "mark": {"type": "line", "color": "#d62728", "strokeWidth": 2.5, "clip": true},
     "encoding": {"x": {"field": "E", "type": "quantitative", "axis": null}, "y": {"field": "v", "type": "quantitative", "axis": null}}},
    {"data": {"values": [{}]}, "mark": {"type": "rect", "fill": "white", "stroke": "black", "strokeWidth": 1.5},
     "encoding": {"x": {"datum": 52, "type": "quantitative", "axis": null}, "x2": {"datum": 188}, "y": {"datum": 0.0655, "type": "quantitative", "axis": null}, "y2": {"datum": 0.0305}}},
    {"data": {"values": [{}]}, "mark": {"type": "text", "text": "B/C", "fontSize": 32},
     "encoding": {"x": {"datum": 100, "type": "quantitative", "axis": null}, "y": {"datum": 0.048, "type": "quantitative", "axis": null}}},
    {"data": {"values": [{}]}, "mark": {"type": "text", "text": "2011-2016", "fontSize": 25},
     "encoding": {"x": {"datum": 24.6, "type": "quantitative", "axis": null}, "y": {"datum": 0.0875, "type": "quantitative", "axis": null}}}
   ]},
  {"width": 489, "height": 521,
   "resolve": {"axis": {"x": "independent", "y": "independent"}},
   "layer": [
    {"data": {"name": "band_M"}, "mark": {"type": "area", "color": "#bdbdbd", "clip": true},
     "encoding": {
      "x": {"field": "E", "type": "quantitative", "scale": {"type": "log", "domain": [0.01, 0.2, 10000], "range": [0, 140, 489], "nice": false},
            "axis": {"orient": "bottom", "values": [0.01,0.1,1,10,100,1000,10000], "tickSize": -9, "labels": false, "title": null}},
      "y": {"field": "lo", "type": "quantitative", "scale": {"domain": [-0.005, 0.4], "nice": false, "zero": false},
            "axis": {"orient": "left", "values": [0.05,0.1,0.15,0.2,0.25,0.3,0.35,0.4], "format": ".2f", "tickSize": -9, "labelPadding": 16, "title": "B/C", "titleFontSize": 16, "titlePadding": 4}},
      "y2": {"field": "hi"}, "detail": {"field": "seg"}}},
    {"data": {"name": "xmaj_M"}, "mark": {"type": "rule", "color": "black", "strokeWidth": 2.2}, "encoding": {"x": {"field": "t", "type": "quantitative", "axis": null}, "y": {"datum": -0.005, "type": "quantitative", "axis": null}, "y2": {"datum": 0.002}}},
    {"data": {"name": "xmaj_M"}, "mark": {"type": "rule", "color": "black", "strokeWidth": 2.2}, "encoding": {"x": {"field": "t", "type": "quantitative", "axis": null}, "y": {"datum": 0.4, "type": "quantitative", "axis": null}, "y2": {"datum": 0.393}}},
    {"data": {"name": "xmin_M"}, "mark": {"type": "rule", "color": "black", "strokeWidth": 2.2}, "encoding": {"x": {"field": "t", "type": "quantitative", "axis": null}, "y": {"datum": -0.005, "type": "quantitative", "axis": null}, "y2": {"datum": -0.0015}}},
    {"data": {"name": "xmin_M"}, "mark": {"type": "rule", "color": "black", "strokeWidth": 2.2}, "encoding": {"x": {"field": "t", "type": "quantitative", "axis": null}, "y": {"datum": 0.4, "type": "quantitative", "axis": null}, "y2": {"datum": 0.3965}}},
    {"data": {"name": "yt_T"}, "mark": {"type": "rule", "color": "black", "strokeWidth": 2.2}, "encoding": {"y": {"field": "t", "type": "quantitative", "axis": null}, "x": {"datum": 0.01, "type": "quantitative", "axis": null}, "x2": {"datum": 0.012122}}},
    {"data": {"name": "yt_T"}, "mark": {"type": "rule", "color": "black", "strokeWidth": 2.2}, "encoding": {"y": {"field": "t", "type": "quantitative", "axis": null}, "x": {"datum": 10000, "type": "quantitative", "axis": null}, "x2": {"datum": 7565}}},
    {"data": {"name": "yt_T"}, "mark": {"type": "rule", "color": "black", "strokeWidth": 2.2}, "encoding": {"y": {"field": "t", "type": "quantitative", "axis": null}, "x": {"datum": 0.165, "type": "quantitative", "axis": null}, "x2": {"datum": 0.2644}}},
    {"data": {"name": "lis_M"}, "mark": {"type": "line", "color": "black", "strokeDash": [11, 6], "strokeWidth": 2.5, "clip": true},
     "encoding": {"x": {"field": "E", "type": "quantitative", "axis": null}, "y": {"field": "v", "type": "quantitative", "axis": null}}},
    {"data": {"name": "ace"}, "mark": {"type": "rule", "color": "#0000ff", "strokeWidth": 2, "clip": true},
     "encoding": {"x": {"field": "E", "type": "quantitative", "axis": null},
      "y": {"field": "lo", "type": "quantitative", "axis": {"orient": "left", "offset": -140, "values": [0.05,0.1,0.15,0.2,0.25,0.3,0.35,0.4], "ticks": false, "labels": false, "domain": true, "domainColor": "black", "domainWidth": 2.2, "title": null}},
      "y2": {"field": "hi"}}},
    {"data": {"name": "voy"}, "mark": {"type": "rule", "color": "black", "strokeWidth": 2, "clip": true},
     "encoding": {"x": {"field": "E", "type": "quantitative", "axis": null}, "y": {"field": "lo", "type": "quantitative", "axis": null}, "y2": {"field": "hi"}}},
    {"data": {"name": "exp_M"}, "mark": {"type": "rule", "strokeWidth": 2, "clip": true},
     "encoding": {"x": {"field": "E", "type": "quantitative", "axis": null}, "y": {"field": "lo", "type": "quantitative", "axis": null}, "y2": {"field": "hi"},
      "color": {"field": "s", "type": "nominal", "scale": {"domain": ["HEAO3-C2 (1979-1980)","ATIC02 (2003)","NUCLEON (2015-2017)","CREAM-I(2004-2005)"], "range": ["black","#bf00bf","#6495ed","#ffa500"]}, "legend": null}}},
    {"data": {"name": "ace"}, "mark": {"type": "point", "shape": "square", "filled": false, "color": "#0000ff", "size": 80, "strokeWidth": 1.5, "opacity": 1, "clip": true},
     "encoding": {"x": {"field": "E", "type": "quantitative", "axis": null}, "y": {"field": "v", "type": "quantitative", "axis": null}}},
    {"data": {"name": "voy"}, "mark": {"type": "point", "shape": "circle", "filled": true, "color": "black", "size": 25, "opacity": 1, "clip": true},
     "encoding": {"x": {"field": "E", "type": "quantitative", "axis": null}, "y": {"field": "v", "type": "quantitative", "axis": null}}},
    {"data": {"name": "hel_M"}, "mark": {"type": "line", "color": "#d62728", "strokeWidth": 2.5, "clip": true},
     "encoding": {"x": {"field": "E", "type": "quantitative", "axis": null}, "y": {"field": "v", "type": "quantitative", "axis": null}, "detail": {"field": "seg"}}},
    {"data": {"name": "exp_M"}, "mark": {"type": "point", "filled": true, "size": 576, "strokeWidth": 1.5, "opacity": 1, "clip": true},
     "encoding": {"x": {"field": "E", "type": "quantitative", "axis": null}, "y": {"field": "v", "type": "quantitative", "axis": null},
      "shape": {"field": "s", "type": "nominal", "scale": {"domain": ["GALPROP LIS","HelMod","HEAO3-C2 (1979-1980)","ATIC02 (2003)","NUCLEON (2015-2017)","CREAM-I(2004-2005)"], "range": ["M-1.4,0H-0.87M-0.27,0H0.27M0.87,0H1.4", "M-1.4,0H1.4", "M0,-0.65V0.65M-0.4,0A0.4,0.4,0,1,0,0.4,0A0.4,0.4,0,1,0,-0.4,0Z", "M0,-0.65V0.65M-0.4,-0.3L0.4,-0.3L0,0.4Z", "M0,-0.65V0.65M-0.13,-0.4H0.13V-0.13H0.4V0.13H0.13V0.4H-0.13V0.13H-0.4V-0.13H-0.13Z", "M0,-0.65V0.65M-0.13,-0.4H0.13V-0.13H0.4V0.13H0.13V0.4H-0.13V0.13H-0.4V-0.13H-0.13Z"]},
               "legend": {"title": null, "orient": "top-right", "offset": 7, "symbolSize": 576, "symbolStrokeWidth": 2, "labelFontSize": 16, "labelOffset": 15, "rowPadding": 1, "padding": 5, "strokeColor": "#cccccc", "fillColor": "white", "cornerRadius": 4, "labelLimit": 400}},
      "fill": {"field": "s", "type": "nominal", "scale": {"domain": ["GALPROP LIS","HelMod","HEAO3-C2 (1979-1980)","ATIC02 (2003)","NUCLEON (2015-2017)","CREAM-I(2004-2005)"], "range": ["transparent","transparent","transparent","#bf00bf","#6495ed","#ffa500"]},
               "legend": {"title": null, "orient": "top-right", "offset": 7, "symbolSize": 576, "symbolStrokeWidth": 2, "labelFontSize": 16, "labelOffset": 15, "rowPadding": 1, "padding": 5, "strokeColor": "#cccccc", "fillColor": "white", "cornerRadius": 4, "labelLimit": 400}},
      "stroke": {"field": "s", "type": "nominal", "scale": {"domain": ["GALPROP LIS","HelMod","HEAO3-C2 (1979-1980)","ATIC02 (2003)","NUCLEON (2015-2017)","CREAM-I(2004-2005)"], "range": ["black","#d62728","black","#bf00bf","#6495ed","#ffa500"]},
               "legend": {"title": null, "orient": "top-right", "offset": 7, "symbolSize": 576, "symbolStrokeWidth": 2, "labelFontSize": 16, "labelOffset": 15, "rowPadding": 1, "padding": 5, "strokeColor": "#cccccc", "fillColor": "white", "cornerRadius": 4, "labelLimit": 400}}}},
    {"data": {"values": [{}]}, "mark": {"type": "text", "text": "ACE-CRIS", "fontSize": 21, "align": "left"},
     "encoding": {"x": {"datum": 0.0153, "type": "quantitative", "axis": null}, "y": {"datum": 0.3256, "type": "quantitative", "axis": null}}},
    {"data": {"values": [{}]}, "mark": {"type": "text", "text": "1998/", "fontSize": 21, "align": "left"},
     "encoding": {"x": {"datum": 0.0153, "type": "quantitative", "axis": null}, "y": {"datum": 0.304, "type": "quantitative", "axis": null}}},
    {"data": {"values": [{}]}, "mark": {"type": "text", "text": "1999", "fontSize": 21, "align": "left"},
     "encoding": {"x": {"datum": 0.0156, "type": "quantitative", "axis": null}, "y": {"datum": 0.286, "type": "quantitative", "axis": null}}},
    {"data": {"values": [{}]}, "mark": {"type": "text", "text": "Voyager", "fontSize": 21, "align": "left"},
     "encoding": {"x": {"datum": 0.0228, "type": "quantitative", "axis": null}, "y": {"datum": 0.0861, "type": "quantitative", "axis": null}}}
   ]},
  {"width": 489, "height": 521,
   "resolve": {"axis": {"x": "independent", "y": "independent"}},
   "layer": [
    {"data": {"name": "band_R"}, "mark": {"type": "area", "color": "#bdbdbd", "clip": true},
     "encoding": {
      "x": {"field": "E", "type": "quantitative", "scale": {"type": "log", "domain": [0.01, 0.2, 10000], "range": [0, 140, 489], "nice": false},
            "axis": {"orient": "bottom", "values": [0.01,0.1,1,10,100,1000,10000], "tickSize": -9, "labels": false, "title": null}},
      "y": {"field": "lo", "type": "quantitative", "scale": {"domain": [-0.005, 0.4], "nice": false, "zero": false},
            "axis": {"orient": "left", "values": [0.05,0.1,0.15,0.2,0.25,0.3,0.35,0.4], "format": ".2f", "tickSize": -9, "labelPadding": 16, "title": "B/C", "titleFontSize": 16, "titlePadding": 4}},
      "y2": {"field": "hi"}, "detail": {"field": "seg"}}},
    {"data": {"name": "xmaj_M"}, "mark": {"type": "rule", "color": "black", "strokeWidth": 2.2}, "encoding": {"x": {"field": "t", "type": "quantitative", "axis": null}, "y": {"datum": -0.005, "type": "quantitative", "axis": null}, "y2": {"datum": 0.002}}},
    {"data": {"name": "xmaj_M"}, "mark": {"type": "rule", "color": "black", "strokeWidth": 2.2}, "encoding": {"x": {"field": "t", "type": "quantitative", "axis": null}, "y": {"datum": 0.4, "type": "quantitative", "axis": null}, "y2": {"datum": 0.393}}},
    {"data": {"name": "xmin_M"}, "mark": {"type": "rule", "color": "black", "strokeWidth": 2.2}, "encoding": {"x": {"field": "t", "type": "quantitative", "axis": null}, "y": {"datum": -0.005, "type": "quantitative", "axis": null}, "y2": {"datum": -0.0015}}},
    {"data": {"name": "xmin_M"}, "mark": {"type": "rule", "color": "black", "strokeWidth": 2.2}, "encoding": {"x": {"field": "t", "type": "quantitative", "axis": null}, "y": {"datum": 0.4, "type": "quantitative", "axis": null}, "y2": {"datum": 0.3965}}},
    {"data": {"name": "yt_T"}, "mark": {"type": "rule", "color": "black", "strokeWidth": 2.2}, "encoding": {"y": {"field": "t", "type": "quantitative", "axis": null}, "x": {"datum": 0.01, "type": "quantitative", "axis": null}, "x2": {"datum": 0.012122}}},
    {"data": {"name": "yt_T"}, "mark": {"type": "rule", "color": "black", "strokeWidth": 2.2}, "encoding": {"y": {"field": "t", "type": "quantitative", "axis": null}, "x": {"datum": 10000, "type": "quantitative", "axis": null}, "x2": {"datum": 7565}}},
    {"data": {"name": "yt_T"}, "mark": {"type": "rule", "color": "black", "strokeWidth": 2.2}, "encoding": {"y": {"field": "t", "type": "quantitative", "axis": null}, "x": {"datum": 0.165, "type": "quantitative", "axis": null}, "x2": {"datum": 0.2644}}},
    {"data": {"name": "lis_R"}, "mark": {"type": "line", "color": "black", "strokeDash": [11, 6], "strokeWidth": 2.5, "clip": true},
     "encoding": {"x": {"field": "E", "type": "quantitative", "axis": null}, "y": {"field": "v", "type": "quantitative", "axis": null}}},
    {"data": {"name": "ace"}, "mark": {"type": "rule", "color": "#0000ff", "strokeWidth": 2, "clip": true},
     "encoding": {"x": {"field": "E", "type": "quantitative", "axis": null},
      "y": {"field": "lo", "type": "quantitative", "axis": {"orient": "left", "offset": -140, "values": [0.05,0.1,0.15,0.2,0.25,0.3,0.35,0.4], "ticks": false, "labels": false, "domain": true, "domainColor": "black", "domainWidth": 2.2, "title": null}},
      "y2": {"field": "hi"}}},
    {"data": {"name": "voy"}, "mark": {"type": "rule", "color": "black", "strokeWidth": 2, "clip": true},
     "encoding": {"x": {"field": "E", "type": "quantitative", "axis": null}, "y": {"field": "lo", "type": "quantitative", "axis": null}, "y2": {"field": "hi"}}},
    {"data": {"name": "exp_R"}, "mark": {"type": "rule", "strokeWidth": 2, "clip": true},
     "encoding": {"x": {"field": "E", "type": "quantitative", "axis": null}, "y": {"field": "lo", "type": "quantitative", "axis": null}, "y2": {"field": "hi"},
      "color": {"field": "s", "type": "nominal", "scale": {"domain": ["AMS-02 (2011-2016)","ATIC02 (2003)","NUCLEON (2015-2017)","CREAM-I(2004-2005)"], "range": ["#008000","#bf00bf","#6495ed","#ffa500"]}, "legend": null}}},
    {"data": {"name": "ace"}, "mark": {"type": "point", "shape": "square", "filled": false, "color": "#0000ff", "size": 80, "strokeWidth": 1.5, "opacity": 1, "clip": true},
     "encoding": {"x": {"field": "E", "type": "quantitative", "axis": null}, "y": {"field": "v", "type": "quantitative", "axis": null}}},
    {"data": {"name": "voy"}, "mark": {"type": "point", "shape": "circle", "filled": true, "color": "black", "size": 25, "opacity": 1, "clip": true},
     "encoding": {"x": {"field": "E", "type": "quantitative", "axis": null}, "y": {"field": "v", "type": "quantitative", "axis": null}}},
    {"data": {"name": "exp_R"}, "mark": {"type": "point", "filled": true, "size": 576, "strokeWidth": 1.5, "opacity": 1, "clip": true},
     "encoding": {"x": {"field": "E", "type": "quantitative", "axis": null}, "y": {"field": "v", "type": "quantitative", "axis": null},
      "shape": {"field": "s", "type": "nominal", "scale": {"domain": ["GALPROP LIS","HelMod","AMS-02 (2011-2016)","ATIC02 (2003)","NUCLEON (2015-2017)","CREAM-I(2004-2005)"], "range": ["M-1.4,0H-0.87M-0.27,0H0.27M0.87,0H1.4", "M-1.4,0H1.4", "M0,-0.65V0.65M-0.4,0A0.4,0.4,0,1,0,0.4,0A0.4,0.4,0,1,0,-0.4,0Z", "M0,-0.65V0.65M-0.4,-0.3L0.4,-0.3L0,0.4Z", "M0,-0.65V0.65M-0.13,-0.4H0.13V-0.13H0.4V0.13H0.13V0.4H-0.13V0.13H-0.4V-0.13H-0.13Z", "M0,-0.65V0.65M-0.13,-0.4H0.13V-0.13H0.4V0.13H0.13V0.4H-0.13V0.13H-0.4V-0.13H-0.13Z"]},
               "legend": {"title": null, "orient": "top-right", "offset": 7, "symbolSize": 576, "symbolStrokeWidth": 2, "labelFontSize": 16, "labelOffset": 15, "rowPadding": 1, "padding": 5, "strokeColor": "#cccccc", "fillColor": "white", "cornerRadius": 4, "labelLimit": 400}},
      "fill": {"field": "s", "type": "nominal", "scale": {"domain": ["GALPROP LIS","HelMod","AMS-02 (2011-2016)","ATIC02 (2003)","NUCLEON (2015-2017)","CREAM-I(2004-2005)"], "range": ["transparent","transparent","#008000","#bf00bf","#6495ed","#ffa500"]},
               "legend": {"title": null, "orient": "top-right", "offset": 7, "symbolSize": 576, "symbolStrokeWidth": 2, "labelFontSize": 16, "labelOffset": 15, "rowPadding": 1, "padding": 5, "strokeColor": "#cccccc", "fillColor": "white", "cornerRadius": 4, "labelLimit": 400}},
      "stroke": {"field": "s", "type": "nominal", "scale": {"domain": ["GALPROP LIS","HelMod","AMS-02 (2011-2016)","ATIC02 (2003)","NUCLEON (2015-2017)","CREAM-I(2004-2005)"], "range": ["black","#d62728","#008000","#bf00bf","#6495ed","#ffa500"]},
               "legend": {"title": null, "orient": "top-right", "offset": 7, "symbolSize": 576, "symbolStrokeWidth": 2, "labelFontSize": 16, "labelOffset": 15, "rowPadding": 1, "padding": 5, "strokeColor": "#cccccc", "fillColor": "white", "cornerRadius": 4, "labelLimit": 400}}}},
    {"data": {"name": "hel_R"}, "mark": {"type": "line", "color": "#d62728", "strokeWidth": 2.5, "clip": true},
     "encoding": {"x": {"field": "E", "type": "quantitative", "axis": null}, "y": {"field": "v", "type": "quantitative", "axis": null}, "detail": {"field": "seg"}}},
    {"data": {"values": [{}]}, "mark": {"type": "text", "text": "ACE-CRIS", "fontSize": 21, "align": "left"},
     "encoding": {"x": {"datum": 0.0153, "type": "quantitative", "axis": null}, "y": {"datum": 0.3256, "type": "quantitative", "axis": null}}},
    {"data": {"values": [{}]}, "mark": {"type": "text", "text": "1998/", "fontSize": 21, "align": "left"},
     "encoding": {"x": {"datum": 0.0153, "type": "quantitative", "axis": null}, "y": {"datum": 0.304, "type": "quantitative", "axis": null}}},
    {"data": {"values": [{}]}, "mark": {"type": "text", "text": "1999", "fontSize": 21, "align": "left"},
     "encoding": {"x": {"datum": 0.0156, "type": "quantitative", "axis": null}, "y": {"datum": 0.286, "type": "quantitative", "axis": null}}},
    {"data": {"values": [{}]}, "mark": {"type": "text", "text": "Voyager", "fontSize": 21, "align": "left"},
     "encoding": {"x": {"datum": 0.0228, "type": "quantitative", "axis": null}, "y": {"datum": 0.0861, "type": "quantitative", "axis": null}}}
   ]},
  {"width": 489, "height": 173,
   "resolve": {"axis": {"x": "independent", "y": "independent"}},
   "layer": [
    {"data": {"name": "bandrd_L"}, "mark": {"type": "area", "color": "#bdbdbd", "clip": true},
     "encoding": {
      "x": {"field": "E", "type": "quantitative", "scale": {"type": "log", "domain": [1, 10000], "nice": false},
            "axis": {"orient": "bottom", "values": [1,10,100,1000,10000], "tickSize": -9, "labelExpr": "datum.value == 0.01 ? '10⁻²' : datum.value == 0.1 ? '10⁻¹' : datum.value == 1 ? '10⁰' : datum.value == 10 ? '10¹' : datum.value == 100 ? '10²' : datum.value == 1000 ? '10³' : datum.value == 10000 ? '10⁴' : ''", "labelPadding": 15, "title": "Rigidity [GV]", "titleFontSize": 20, "titlePadding": 0}},
      "y": {"field": "lo", "type": "quantitative", "scale": {"domain": [-0.4, 0.4], "nice": false, "zero": false},
            "axis": {"orient": "left", "values": [-0.4,-0.2,0,0.2,0.4], "format": ".1f", "tickSize": -9, "labelPadding": 16, "title": "Relative difference", "titlePadding": 11}},
      "y2": {"field": "hi"}}},
    {"data": {"name": "xmaj_L"}, "mark": {"type": "rule", "color": "black", "strokeWidth": 2.2}, "encoding": {"x": {"field": "t", "type": "quantitative", "axis": null}, "y": {"datum": -0.4, "type": "quantitative", "axis": null}, "y2": {"datum": -0.3584}}},
    {"data": {"name": "xmaj_L"}, "mark": {"type": "rule", "color": "black", "strokeWidth": 2.2}, "encoding": {"x": {"field": "t", "type": "quantitative", "axis": null}, "y": {"datum": 0.4, "type": "quantitative", "axis": null}, "y2": {"datum": 0.3584}}},
    {"data": {"name": "xmin_L"}, "mark": {"type": "rule", "color": "black", "strokeWidth": 2.2}, "encoding": {"x": {"field": "t", "type": "quantitative", "axis": null}, "y": {"datum": -0.4, "type": "quantitative", "axis": null}, "y2": {"datum": -0.3792}}},
    {"data": {"name": "xmin_L"}, "mark": {"type": "rule", "color": "black", "strokeWidth": 2.2}, "encoding": {"x": {"field": "t", "type": "quantitative", "axis": null}, "y": {"datum": 0.4, "type": "quantitative", "axis": null}, "y2": {"datum": 0.3792}}},
    {"data": {"name": "yt_B"}, "mark": {"type": "rule", "color": "black", "strokeWidth": 2.2}, "encoding": {"y": {"field": "t", "type": "quantitative", "axis": null}, "x": {"datum": 1, "type": "quantitative", "axis": null}, "x2": {"datum": 1.185}}},
    {"data": {"name": "yt_B"}, "mark": {"type": "rule", "color": "black", "strokeWidth": 2.2}, "encoding": {"y": {"field": "t", "type": "quantitative", "axis": null}, "x": {"datum": 10000, "type": "quantitative", "axis": null}, "x2": {"datum": 8440}}},
    {"data": {"name": "lisrd_L"}, "mark": {"type": "line", "color": "black", "strokeDash": [11, 6], "strokeWidth": 2.5, "clip": true},
     "encoding": {"x": {"field": "E", "type": "quantitative", "axis": null}, "y": {"field": "v", "type": "quantitative", "axis": null}}},
    {"data": {"name": "amsrd_L"}, "mark": {"type": "rule", "color": "#008000", "strokeWidth": 2, "clip": true},
     "encoding": {"x": {"field": "E", "type": "quantitative", "axis": null}, "y": {"field": "lo", "type": "quantitative", "axis": null}, "y2": {"field": "hi"}}},
    {"data": {"name": "amsrd_L"}, "mark": {"type": "point", "shape": "circle", "filled": true, "color": "#008000", "size": 100, "opacity": 1, "clip": true},
     "encoding": {"x": {"field": "E", "type": "quantitative", "axis": null}, "y": {"field": "v", "type": "quantitative", "axis": null}}},
    {"data": {"name": "helrd_L"}, "mark": {"type": "line", "color": "#d62728", "strokeWidth": 2.5, "clip": true},
     "encoding": {"x": {"field": "E", "type": "quantitative", "axis": null}, "y": {"field": "v", "type": "quantitative", "axis": null}}}
   ]},
  {"width": 489, "height": 173,
   "resolve": {"axis": {"x": "independent", "y": "independent"}},
   "layer": [
    {"data": {"name": "bandrd_M"}, "mark": {"type": "area", "color": "#bdbdbd", "clip": true},
     "encoding": {
      "x": {"field": "E", "type": "quantitative", "scale": {"type": "log", "domain": [0.01, 0.2, 10000], "range": [0, 140, 489], "nice": false},
            "axis": {"orient": "bottom", "values": [0.01,0.1,1,10,100,1000,10000], "tickSize": -9, "labelExpr": "datum.value == 0.01 ? '10⁻²' : datum.value == 0.1 ? '10⁻¹' : datum.value == 1 ? '10⁰' : datum.value == 10 ? '10¹' : datum.value == 100 ? '10²' : datum.value == 1000 ? '10³' : datum.value == 10000 ? '10⁴' : ''", "labelPadding": 15, "title": "Kinetic Energy [GeV/nuc]", "titleFontSize": 20, "titlePadding": 0}},
      "y": {"field": "lo", "type": "quantitative", "scale": {"domain": [-0.4, 0.4], "nice": false, "zero": false},
            "axis": {"orient": "left", "values": [-0.4,-0.2,0,0.2,0.4], "format": ".1f", "tickSize": -9, "labelPadding": 16, "title": "Relative difference", "titlePadding": 4}},
      "y2": {"field": "hi"}, "detail": {"field": "seg"}}},
    {"data": {"name": "xmaj_M"}, "mark": {"type": "rule", "color": "black", "strokeWidth": 2.2}, "encoding": {"x": {"field": "t", "type": "quantitative", "axis": null}, "y": {"datum": -0.4, "type": "quantitative", "axis": null}, "y2": {"datum": -0.3584}}},
    {"data": {"name": "xmaj_M"}, "mark": {"type": "rule", "color": "black", "strokeWidth": 2.2}, "encoding": {"x": {"field": "t", "type": "quantitative", "axis": null}, "y": {"datum": 0.4, "type": "quantitative", "axis": null}, "y2": {"datum": 0.3584}}},
    {"data": {"name": "xmin_M"}, "mark": {"type": "rule", "color": "black", "strokeWidth": 2.2}, "encoding": {"x": {"field": "t", "type": "quantitative", "axis": null}, "y": {"datum": -0.4, "type": "quantitative", "axis": null}, "y2": {"datum": -0.3792}}},
    {"data": {"name": "xmin_M"}, "mark": {"type": "rule", "color": "black", "strokeWidth": 2.2}, "encoding": {"x": {"field": "t", "type": "quantitative", "axis": null}, "y": {"datum": 0.4, "type": "quantitative", "axis": null}, "y2": {"datum": 0.3792}}},
    {"data": {"name": "yt_B"}, "mark": {"type": "rule", "color": "black", "strokeWidth": 2.2}, "encoding": {"y": {"field": "t", "type": "quantitative", "axis": null}, "x": {"datum": 0.01, "type": "quantitative", "axis": null}, "x2": {"datum": 0.012122}}},
    {"data": {"name": "yt_B"}, "mark": {"type": "rule", "color": "black", "strokeWidth": 2.2}, "encoding": {"y": {"field": "t", "type": "quantitative", "axis": null}, "x": {"datum": 10000, "type": "quantitative", "axis": null}, "x2": {"datum": 7565}}},
    {"data": {"name": "yt_B"}, "mark": {"type": "rule", "color": "black", "strokeWidth": 2.2}, "encoding": {"y": {"field": "t", "type": "quantitative", "axis": null}, "x": {"datum": 0.165, "type": "quantitative", "axis": null}, "x2": {"datum": 0.2644}}},
    {"data": {"name": "lisrd_M"}, "mark": {"type": "line", "color": "black", "strokeDash": [11, 6], "strokeWidth": 2.5, "clip": true},
     "encoding": {"x": {"field": "E", "type": "quantitative", "axis": null}, "y": {"field": "v", "type": "quantitative", "axis": null}, "detail": {"field": "seg"}}},
    {"data": {"name": "acerd"}, "mark": {"type": "rule", "color": "#0000ff", "strokeWidth": 2, "clip": true},
     "encoding": {"x": {"field": "E", "type": "quantitative", "axis": null},
      "y": {"field": "lo", "type": "quantitative", "axis": {"orient": "left", "offset": -140, "values": [-0.4,-0.2,0,0.2,0.4], "ticks": false, "labels": false, "domain": true, "domainColor": "black", "domainWidth": 2.2, "title": null}},
      "y2": {"field": "hi"}}},
    {"data": {"name": "exprd_M"}, "mark": {"type": "rule", "strokeWidth": 2, "clip": true},
     "encoding": {"x": {"field": "E", "type": "quantitative", "axis": null}, "y": {"field": "lo", "type": "quantitative", "axis": null}, "y2": {"field": "hi"},
      "color": {"field": "s", "type": "nominal", "scale": {"domain": ["HEAO3-C2 (1979-1980)","ATIC02 (2003)","NUCLEON (2015-2017)","CREAM-I(2004-2005)"], "range": ["black","#bf00bf","#6495ed","#ffa500"]}, "legend": null}}},
    {"data": {"name": "acerd"}, "mark": {"type": "point", "shape": "square", "filled": false, "color": "#0000ff", "size": 80, "strokeWidth": 1.5, "opacity": 1, "clip": true},
     "encoding": {"x": {"field": "E", "type": "quantitative", "axis": null}, "y": {"field": "v", "type": "quantitative", "axis": null}}},
    {"data": {"name": "helrd_M"}, "mark": {"type": "line", "color": "#d62728", "strokeWidth": 2.5, "clip": true},
     "encoding": {"x": {"field": "E", "type": "quantitative", "axis": null}, "y": {"field": "v", "type": "quantitative", "axis": null}, "detail": {"field": "seg"}}},
    {"data": {"name": "exprd_M"}, "mark": {"type": "point", "filled": true, "size": 576, "strokeWidth": 1.5, "opacity": 1, "clip": true},
     "encoding": {"x": {"field": "E", "type": "quantitative", "axis": null}, "y": {"field": "v", "type": "quantitative", "axis": null},
      "shape": {"field": "s", "type": "nominal", "scale": {"domain": ["GALPROP LIS","HelMod","HEAO3-C2 (1979-1980)","ATIC02 (2003)","NUCLEON (2015-2017)","CREAM-I(2004-2005)"], "range": ["M-1.4,0H-0.87M-0.27,0H0.27M0.87,0H1.4", "M-1.4,0H1.4", "M0,-0.65V0.65M-0.4,0A0.4,0.4,0,1,0,0.4,0A0.4,0.4,0,1,0,-0.4,0Z", "M0,-0.65V0.65M-0.4,-0.3L0.4,-0.3L0,0.4Z", "M0,-0.65V0.65M-0.13,-0.4H0.13V-0.13H0.4V0.13H0.13V0.4H-0.13V0.13H-0.4V-0.13H-0.13Z", "M0,-0.65V0.65M-0.13,-0.4H0.13V-0.13H0.4V0.13H0.13V0.4H-0.13V0.13H-0.4V-0.13H-0.13Z"]}, "legend": null},
      "fill": {"field": "s", "type": "nominal", "scale": {"domain": ["GALPROP LIS","HelMod","HEAO3-C2 (1979-1980)","ATIC02 (2003)","NUCLEON (2015-2017)","CREAM-I(2004-2005)"], "range": ["transparent","transparent","transparent","#bf00bf","#6495ed","#ffa500"]}, "legend": null},
      "stroke": {"field": "s", "type": "nominal", "scale": {"domain": ["GALPROP LIS","HelMod","HEAO3-C2 (1979-1980)","ATIC02 (2003)","NUCLEON (2015-2017)","CREAM-I(2004-2005)"], "range": ["black","#d62728","black","#bf00bf","#6495ed","#ffa500"]}, "legend": null}}}
   ]},
  {"width": 489, "height": 173,
   "resolve": {"axis": {"x": "independent", "y": "independent"}},
   "layer": [
    {"data": {"name": "bandrd_R"}, "mark": {"type": "area", "color": "#bdbdbd", "clip": true},
     "encoding": {
      "x": {"field": "E", "type": "quantitative", "scale": {"type": "log", "domain": [0.01, 0.2, 10000], "range": [0, 140, 489], "nice": false},
            "axis": {"orient": "bottom", "values": [0.01,0.1,1,10,100,1000,10000], "tickSize": -9, "labelExpr": "datum.value == 0.01 ? '10⁻²' : datum.value == 0.1 ? '10⁻¹' : datum.value == 1 ? '10⁰' : datum.value == 10 ? '10¹' : datum.value == 100 ? '10²' : datum.value == 1000 ? '10³' : datum.value == 10000 ? '10⁴' : ''", "labelPadding": 15, "title": "Kinetic Energy [GeV/nuc]", "titleFontSize": 20, "titlePadding": 0}},
      "y": {"field": "lo", "type": "quantitative", "scale": {"domain": [-0.4, 0.4], "nice": false, "zero": false},
            "axis": {"orient": "left", "values": [-0.4,-0.2,0,0.2,0.4], "format": ".1f", "tickSize": -9, "labelPadding": 16, "title": "Relative difference", "titlePadding": 4}},
      "y2": {"field": "hi"}, "detail": {"field": "seg"}}},
    {"data": {"name": "xmaj_M"}, "mark": {"type": "rule", "color": "black", "strokeWidth": 2.2}, "encoding": {"x": {"field": "t", "type": "quantitative", "axis": null}, "y": {"datum": -0.4, "type": "quantitative", "axis": null}, "y2": {"datum": -0.3584}}},
    {"data": {"name": "xmaj_M"}, "mark": {"type": "rule", "color": "black", "strokeWidth": 2.2}, "encoding": {"x": {"field": "t", "type": "quantitative", "axis": null}, "y": {"datum": 0.4, "type": "quantitative", "axis": null}, "y2": {"datum": 0.3584}}},
    {"data": {"name": "xmin_M"}, "mark": {"type": "rule", "color": "black", "strokeWidth": 2.2}, "encoding": {"x": {"field": "t", "type": "quantitative", "axis": null}, "y": {"datum": -0.4, "type": "quantitative", "axis": null}, "y2": {"datum": -0.3792}}},
    {"data": {"name": "xmin_M"}, "mark": {"type": "rule", "color": "black", "strokeWidth": 2.2}, "encoding": {"x": {"field": "t", "type": "quantitative", "axis": null}, "y": {"datum": 0.4, "type": "quantitative", "axis": null}, "y2": {"datum": 0.3792}}},
    {"data": {"name": "yt_B"}, "mark": {"type": "rule", "color": "black", "strokeWidth": 2.2}, "encoding": {"y": {"field": "t", "type": "quantitative", "axis": null}, "x": {"datum": 0.01, "type": "quantitative", "axis": null}, "x2": {"datum": 0.012122}}},
    {"data": {"name": "yt_B"}, "mark": {"type": "rule", "color": "black", "strokeWidth": 2.2}, "encoding": {"y": {"field": "t", "type": "quantitative", "axis": null}, "x": {"datum": 10000, "type": "quantitative", "axis": null}, "x2": {"datum": 7565}}},
    {"data": {"name": "yt_B"}, "mark": {"type": "rule", "color": "black", "strokeWidth": 2.2}, "encoding": {"y": {"field": "t", "type": "quantitative", "axis": null}, "x": {"datum": 0.165, "type": "quantitative", "axis": null}, "x2": {"datum": 0.2644}}},
    {"data": {"name": "lisrd_R"}, "mark": {"type": "line", "color": "black", "strokeDash": [11, 6], "strokeWidth": 2.5, "clip": true},
     "encoding": {"x": {"field": "E", "type": "quantitative", "axis": null}, "y": {"field": "v", "type": "quantitative", "axis": null}, "detail": {"field": "seg"}}},
    {"data": {"name": "acerd"}, "mark": {"type": "rule", "color": "#0000ff", "strokeWidth": 2, "clip": true},
     "encoding": {"x": {"field": "E", "type": "quantitative", "axis": null},
      "y": {"field": "lo", "type": "quantitative", "axis": {"orient": "left", "offset": -140, "values": [-0.4,-0.2,0,0.2,0.4], "ticks": false, "labels": false, "domain": true, "domainColor": "black", "domainWidth": 2.2, "title": null}},
      "y2": {"field": "hi"}}},
    {"data": {"name": "exprd_R"}, "mark": {"type": "rule", "strokeWidth": 2, "clip": true},
     "encoding": {"x": {"field": "E", "type": "quantitative", "axis": null}, "y": {"field": "lo", "type": "quantitative", "axis": null}, "y2": {"field": "hi"},
      "color": {"field": "s", "type": "nominal", "scale": {"domain": ["AMS-02 (2011-2016)","ATIC02 (2003)","NUCLEON (2015-2017)","CREAM-I(2004-2005)"], "range": ["#008000","#bf00bf","#6495ed","#ffa500"]}, "legend": null}}},
    {"data": {"name": "acerd"}, "mark": {"type": "point", "shape": "square", "filled": false, "color": "#0000ff", "size": 80, "strokeWidth": 1.5, "opacity": 1, "clip": true},
     "encoding": {"x": {"field": "E", "type": "quantitative", "axis": null}, "y": {"field": "v", "type": "quantitative", "axis": null}}},
    {"data": {"name": "exprd_R"}, "mark": {"type": "point", "filled": true, "size": 576, "strokeWidth": 1.5, "opacity": 1, "clip": true},
     "encoding": {"x": {"field": "E", "type": "quantitative", "axis": null}, "y": {"field": "v", "type": "quantitative", "axis": null},
      "shape": {"field": "s", "type": "nominal", "scale": {"domain": ["GALPROP LIS","HelMod","AMS-02 (2011-2016)","ATIC02 (2003)","NUCLEON (2015-2017)","CREAM-I(2004-2005)"], "range": ["M-1.4,0H-0.87M-0.27,0H0.27M0.87,0H1.4", "M-1.4,0H1.4", "M0,-0.65V0.65M-0.4,0A0.4,0.4,0,1,0,0.4,0A0.4,0.4,0,1,0,-0.4,0Z", "M0,-0.65V0.65M-0.4,-0.3L0.4,-0.3L0,0.4Z", "M0,-0.65V0.65M-0.13,-0.4H0.13V-0.13H0.4V0.13H0.13V0.4H-0.13V0.13H-0.4V-0.13H-0.13Z", "M0,-0.65V0.65M-0.13,-0.4H0.13V-0.13H0.4V0.13H0.13V0.4H-0.13V0.13H-0.4V-0.13H-0.13Z"]}, "legend": null},
      "fill": {"field": "s", "type": "nominal", "scale": {"domain": ["GALPROP LIS","HelMod","AMS-02 (2011-2016)","ATIC02 (2003)","NUCLEON (2015-2017)","CREAM-I(2004-2005)"], "range": ["transparent","transparent","#008000","#bf00bf","#6495ed","#ffa500"]}, "legend": null},
      "stroke": {"field": "s", "type": "nominal", "scale": {"domain": ["GALPROP LIS","HelMod","AMS-02 (2011-2016)","ATIC02 (2003)","NUCLEON (2015-2017)","CREAM-I(2004-2005)"], "range": ["black","#d62728","#008000","#bf00bf","#6495ed","#ffa500"]}, "legend": null}}},
    {"data": {"name": "helrd_R"}, "mark": {"type": "line", "color": "#d62728", "strokeWidth": 2.5, "clip": true},
     "encoding": {"x": {"field": "E", "type": "quantitative", "axis": null}, "y": {"field": "v", "type": "quantitative", "axis": null}, "detail": {"field": "seg"}}}
   ]}
],
"columns": 3,
"spacing": {"row": 0, "column": 114},
"bounds": "flush",
"resolve": {"scale": {"x": "independent", "y": "independent", "color": "independent", "fill": "independent", "stroke": "independent", "shape": "independent"}}
}
